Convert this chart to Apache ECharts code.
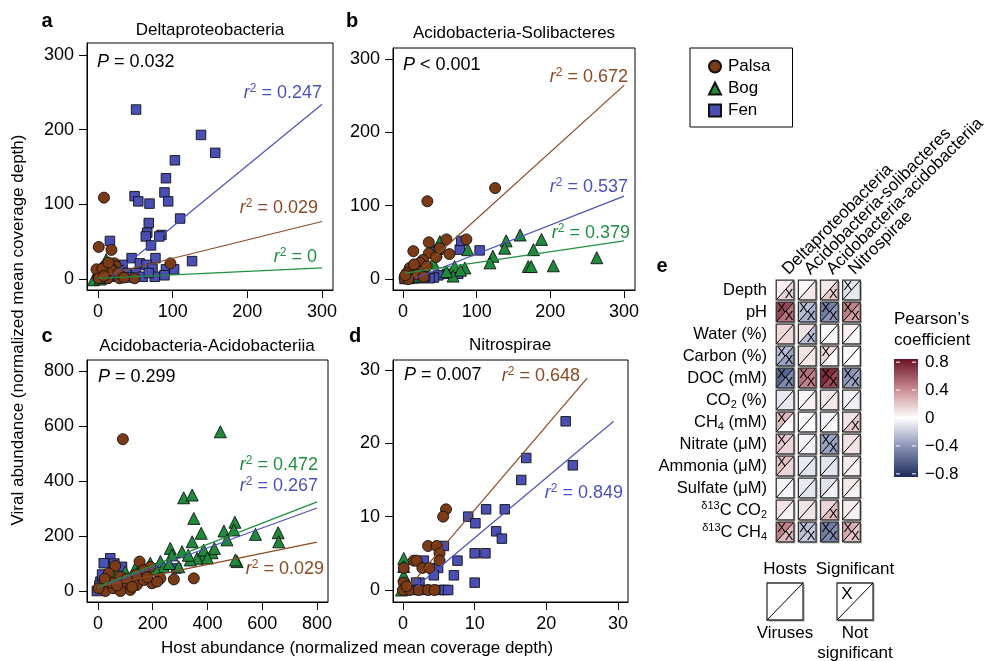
<!DOCTYPE html>
<html><head><meta charset="utf-8">
<script src="https://cdn.jsdelivr.net/npm/echarts@6/dist/echarts.min.js"></script>
<style>html,body{margin:0;padding:0;background:#fff}#c{width:988px;height:661px}</style>
</head><body><div id="c"></div>
<script>
const FONT = '"Liberation Sans", Arial, Helvetica, sans-serif';
const C_PALSA = '#7b3b16', C_BOG = '#1f8a3c', C_FEN = '#4a4fb5';
const L_PALSA = '#8c4a22', L_BOG = '#1f9040', L_FEN = '#4d52ba';

// ---------------- scatter data (host, virus) ----------------
const fenA = [[51,227],[138,193],[157,169],[103,159],[91,135],[89,116],[94,104],[49,111],[54,104],[69,101],[68,75],[66,62],[64,57],[85,59],[82,57],[71,45],[110,81],[16,51],[126,24],[45,28],[77,28],[56,21],[65,19],[73,14],[91,13],[102,13],[89,5],[33,19],[29,12],[38,8],[51,8],[60,3],[76,3],[20,3],[11,1],[42,2],[25,5],[68,8]];
const bogA = [[11,26],[-6,-1],[3,0],[8,2]];
const palsaA = [[8,109],[1,43],[18,39],[97,21],[0,3],[4,10],[9,17],[16,19],[22,21],[24,17],[19,13],[11,8],[2,5],[13,1],[49,1],[29,1],[18,12],[-2,13],[1,1],[6,14],[14,22],[27,8],[35,2],[8,4]];

const fenB = [[77,40],[79,52],[104,39],[75,7],[60,7],[48,5],[42,2],[48,40],[43,37],[36,1],[23,1],[9,0],[2,0],[30,3],[15,1]];
const bogB = [[263,29],[204,18],[170,17],[174,17],[188,54],[177,40],[159,60],[140,52],[138,42],[122,31],[118,22],[88,40],[84,15],[70,17],[50,51],[68,4],[59,10],[41,22],[27,6],[16,4],[78,12],[45,38]];
const palsaB = [[125,124],[33,106],[35,50],[59,54],[86,54],[14,38],[35,35],[63,34],[45,30],[27,26],[23,22],[9,15],[18,13],[25,10],[5,8],[11,4],[2,1],[7,0],[32,17],[50,42],[15,20],[3,5],[20,6],[28,3]];

const fenC = [[45,119],[21,101],[88,88],[286,82],[9,34],[-4,0],[33,52],[60,100],[15,60],[5,20]];
const bogC = [[447,579],[313,339],[344,349],[350,264],[377,210],[344,179],[500,250],[460,218],[496,222],[471,186],[575,206],[658,212],[660,179],[508,107],[502,113],[417,139],[386,125],[362,119],[337,113],[307,143],[264,155],[270,131],[228,107],[240,88],[191,101],[136,82],[295,88],[386,149],[425,155],[69,64],[160,95],[210,80],[330,130],[400,120],[260,100],[100,70]];
const palsaC = [[91,552],[350,46],[277,42],[152,107],[63,91],[39,64],[82,52],[118,34],[197,28],[228,46],[191,88],[167,76],[15,16],[27,0],[57,10],[100,16],[118,4],[82,0],[142,22],[167,40],[216,34],[33,34],[2,10],[140,60],[105,45],[50,30],[70,20],[180,50],[25,45],[125,15]];

const fenD = [[22.7,23],[23.7,17],[17.2,18],[16.5,15],[11.6,11],[14.2,11],[9.1,10],[10.1,9.1],[13,8],[13.8,7],[10,5],[11.5,5],[10,1],[7.1,2],[7.6,4],[5.7,6],[4.9,3],[4.3,2],[2.9,4],[2.3,1],[1.8,1],[5.1,0],[5.8,0],[6.3,0],[3.7,0],[2.3,0],[1.2,0],[0.5,0]];
const bogD = [[0.1,4.3],[0.1,3.2],[0.1,2],[-0.2,0],[0.1,0.9]];
const palsaD = [[6,11],[5.6,10],[3.5,6],[4.7,6],[5.1,5],[5.1,4],[1.5,4],[1.9,4],[2.7,3],[3.7,3],[0.1,3],[0.1,1],[0,0],[0.9,0],[2.2,0],[3.5,0],[4.4,0],[0.5,0.5]];

// regression line end points
const fitA = {Fen:[[18,3],[300,234]], Palsa:[[0,3],[300,77]], Bog:[[0,1],[300,15]]};
const fitB = {Fen:[[16,1],[300,113]], Palsa:[[12,2],[300,264]], Bog:[[3,8],[300,52]]};
const fitC = {Fen:[[0,12],[800,302]], Palsa:[[0,15],[800,178]], Bog:[[0,15],[800,324]]};
const fitD = {Fen:[[1.7,0.3],[29.4,23]], Palsa:[[0.7,0.3],[25.7,28.9]]};

const r2A = {Fen:'0.247', Palsa:'0.029', Bog:'0'};
const r2B = {Palsa:'0.672', Fen:'0.537', Bog:'0.379'};
const r2C = {Bog:'0.472', Fen:'0.267', Palsa:'0.029'};
const r2D = {Palsa:'0.648', Fen:'0.849'};
const pTexts = ['= 0.032', '< 0.001', '= 0.299', '= 0.007'];

const ticksA = [0,100,200,300];
const ticksB = [0,100,200,300];
const ticksC = [0,200,400,600,800];
const ticksD = [0,10,20,30];
const panelTitles = ['Deltaproteobacteria','Acidobacteria-Solibacteres','Acidobacteria-Acidobacteriia','Nitrospirae'];

// ---------------- heatmap data ----------------
const heatCols = ['Deltaproteobacteria','Acidobacteria-solibacteres','Acidobacteria-acidobacteriia','Nitrospirae'];
const heatRows = ['Depth','pH','Water (%)','Carbon (%)','DOC (mM)','CO2 (%)','CH4 (mM)','Nitrate (\u03bcM)','Ammonia (\u03bcM)','Sulfate (\u03bcM)','\u03b413C CO2','\u03b413C CH4'];
const hostR = [
 [0.05,0.03,0.08,-0.1],
 [0.65,-0.25,-0.5,0.45],
 [0.14,0.1,0.0,0.05],
 [-0.25,0.1,0.14,0.02],
 [-0.6,0.5,0.75,-0.4],
 [-0.08,0.02,0.08,-0.05],
 [0.25,0.02,-0.04,0.1],
 [0.2,-0.04,-0.35,0.1],
 [0.22,-0.08,-0.1,0.07],
 [-0.05,-0.08,-0.1,0.08],
 [0.1,0.1,0.15,0.07],
 [0.45,-0.25,-0.5,0.3]];
const virusR = [
 [0.15,0.08,0.18,-0.08],
 [0.5,-0.3,-0.4,0.35],
 [0.14,-0.25,0.02,0.02],
 [-0.35,0.08,0.02,0.0],
 [-0.45,0.45,0.65,-0.35],
 [-0.08,0.05,0.08,-0.05],
 [0.02,0.0,0.0,0.2],
 [0.15,-0.04,-0.35,0.1],
 [0.15,-0.1,-0.1,0.05],
 [-0.03,-0.1,-0.05,0.05],
 [0.05,0.1,0.25,0.05],
 [0.25,-0.2,-0.45,0.2]];
const hostX = [[0,0,0,1],[1,1,1,1],[0,0,0,0],[1,0,1,0],[1,1,1,1],[0,0,0,0],[1,0,0,0],[1,0,1,0],[1,0,0,0],[0,0,0,0],[0,0,0,0],[1,1,1,1]];
const virusX = [[1,0,1,0],[1,1,1,1],[0,1,0,0],[1,0,0,0],[1,1,1,1],[0,0,0,0],[0,0,0,1],[0,0,1,0],[0,0,0,0],[0,0,0,0],[0,0,1,0],[1,1,1,1]];
const cbTicks = [-0.8,-0.4,0,0.4,0.8];
const cbRange = [-0.845, 0.845];
const rampStops = [[-0.845,'#1b2b5b'],[-0.4,'#8d95b9'],[0,'#ffffff'],[0.4,'#cb8f96'],[0.845,'#6b1022']];

// ---------------- helpers ----------------
function hex2rgb(h){return [parseInt(h.slice(1,3),16),parseInt(h.slice(3,5),16),parseInt(h.slice(5,7),16)];}
function rampColor(v){
  v = Math.max(rampStops[0][0], Math.min(rampStops[rampStops.length-1][0], v));
  for (let i=0;i<rampStops.length-1;i++){
    const a=rampStops[i], b=rampStops[i+1];
    if (v>=a[0] && v<=b[0]){
      const t=(v-a[0])/(b[0]-a[0]); const ca=hex2rgb(a[1]), cb=hex2rgb(b[1]);
      const c=ca.map((x,k)=>Math.round(x+(cb[k]-x)*t));
      return 'rgb('+c.join(',')+')';
    }
  }
  return '#fff';
}

// layout of each scatter panel: plot box in px, axis extents
const panels = [
 {box:[87,43,333,290], xr:[-14.7,314.7], yr:[-14.7,316.1], ticks:ticksA, fen:fenA, bog:bogA, palsa:palsaA, fit:fitA, r2:r2A,
  r2pos:{Fen:[322,93],Palsa:[318,208],Bog:[317,257]}, ppos:[97,62], tpos:[210,30], letter:'a', lpos:[47,21]},
 {box:[393,48,635,290], xr:[-13.6,314.9], yr:[-15,315], ticks:ticksB, fen:fenB, bog:bogB, palsa:palsaB, fit:fitB, r2:r2B,
  r2pos:{Palsa:[628,77],Fen:[628,187],Bog:[630,233]}, ppos:[403,65], tpos:[514,33], letter:'b', lpos:[352,21]},
 {box:[87,360,328,602], xr:[-40,840], yr:[-40,840], ticks:ticksC, fen:fenC, bog:bogC, palsa:palsaC, fit:fitC, r2:r2C,
  r2pos:{Bog:[318,465],Fen:[318,486],Palsa:[324,569]}, ppos:[98,377], tpos:[207,346], letter:'c', lpos:[47,336]},
 {box:[393,360,628,602], xr:[-1.4,31.4], yr:[-1.64,31.36], ticks:ticksD, fen:fenD, bog:bogD, palsa:palsaD, fit:fitD, r2:r2D,
  r2pos:{Palsa:[580,376],Fen:[623,493]}, ppos:[404,375], tpos:[510,345], letter:'d', lpos:[355,336]}
];

const grids=[], xAxes=[], yAxes=[], series=[], graphics=[];
const fillC = {Palsa:C_PALSA, Bog:C_BOG, Fen:C_FEN};
const lineC = {Palsa:L_PALSA, Bog:L_BOG, Fen:L_FEN};
const symb = {Palsa:['circle',11], Bog:['triangle',12], Fen:['rect',9.5]};

panels.forEach((p,i)=>{
  const [l,t,r,b] = p.box;
  grids.push({left:l, top:t, width:r-l, height:b-t, show:true, borderColor:'#000', borderWidth:1, backgroundColor:'transparent'});
  const axisCommon = {
    type:'value', gridIndex:i, splitLine:{show:false},
    axisLine:{show:true, onZero:false, lineStyle:{color:'#000', width:1}},
    axisTick:{show:true, inside:false, customValues:p.ticks, length:8, lineStyle:{color:'#000', width:1}},
    axisLabel:{customValues:p.ticks, color:'#000', fontSize:18, fontFamily:FONT}
  };
  xAxes.push(Object.assign({}, axisCommon, {position:'bottom', min:p.xr[0], max:p.xr[1], axisLabel:Object.assign({}, axisCommon.axisLabel, {margin:13})}));
  yAxes.push(Object.assign({}, axisCommon, {position:'left', min:p.yr[0], max:p.yr[1], axisLabel:Object.assign({}, axisCommon.axisLabel, {margin:13})}));
  ['Fen','Bog','Palsa'].forEach(k=>{
    series.push({type:'scatter', name:k, xAxisIndex:i, yAxisIndex:i, data:p[k.toLowerCase()],
      symbol:symb[k][0], symbolSize:symb[k][1], z:3,
      itemStyle:{color:fillC[k], borderColor:'#111', borderWidth:0.9, opacity:1}});
  });
  Object.keys(p.fit).forEach(k=>{
    series.push({type:'line', name:'fit'+k+i, xAxisIndex:i, yAxisIndex:i, data:p.fit[k], symbol:'none', z:4,
      lineStyle:{color:lineC[k], width:1.2}});
  });
  Object.keys(p.r2).forEach(k=>{
    const pos = p.r2pos[k]; const c = lineC[k];
    graphics.push({type:'text', x:pos[0], y:pos[1], z:10, style:{
      text:'{i|r}{s|2}{t| = '+p.r2[k]+'}', align:'right', verticalAlign:'middle',
      rich:{i:{fontStyle:'italic', fontSize:18, fontFamily:FONT, fill:c},
            s:{fontSize:12, fontFamily:FONT, fill:c, padding:[0,0,9,0]},
            t:{fontSize:18, fontFamily:FONT, fill:c}}}});
  });
  graphics.push({type:'text', x:p.ppos[0], y:p.ppos[1], z:10, style:{
    text:'{i|P}{t| '+pTexts[i]+'}', align:'left', verticalAlign:'middle',
    rich:{i:{fontStyle:'italic', fontSize:18, fontFamily:FONT, fill:'#000'}, t:{fontSize:18, fontFamily:FONT, fill:'#000'}}}});
  graphics.push({type:'text', x:p.tpos[0], y:p.tpos[1], style:{text:panelTitles[i], fontSize:17, fontFamily:FONT, fill:'#000', align:'center', verticalAlign:'middle'}});
  graphics.push({type:'text', x:p.lpos[0], y:p.lpos[1], style:{text:p.letter, fontSize:20, fontWeight:'bold', fontFamily:FONT, fill:'#000', align:'center', verticalAlign:'middle'}});
});

graphics.push({type:'text', x:18, y:330, rotation:Math.PI/2, style:{text:'Viral abundance (normalized mean coverage depth)', fontSize:17, fontFamily:FONT, fill:'#000', align:'center', verticalAlign:'middle'}});
graphics.push({type:'text', x:357, y:648, style:{text:'Host abundance (normalized mean coverage depth)', fontSize:17, fontFamily:FONT, fill:'#000', align:'center', verticalAlign:'middle'}});
graphics.push({type:'text', x:662, y:266, style:{text:'e', fontSize:20, fontWeight:'bold', fontFamily:FONT, fill:'#000', align:'center', verticalAlign:'middle'}});

// ---------------- heatmap ----------------
const HG = grids.length;
grids.push({left:774, top:279, width:100, height:264});
function fmtChem(s){
  const m = s.match(/^(CO|CH)(\d)(.*)$/);
  if (m) return '{n|'+m[1]+'}{sub|'+m[2]+'}' + (m[3] ? '{n|'+m[3]+'}' : '');
  return '{n|'+s+'}';
}
function fmtRow(s){
  if (s.indexOf('\u03b413C ')===0) return '{sup|\u03b413}{n|C }' + fmtChem(s.slice(5));
  return fmtChem(s);
}
xAxes.push({type:'category', gridIndex:HG, data:heatCols, position:'top', axisLine:{show:false}, axisTick:{show:false}, splitLine:{show:false},
  axisLabel:{rotate:-45, interval:0, margin:7, fontSize:17, fontFamily:FONT, color:'#000'}});
yAxes.push({type:'category', gridIndex:HG, data:heatRows, inverse:true, axisLine:{show:false}, axisTick:{show:false}, splitLine:{show:false},
  axisLabel:{interval:0, margin:7, formatter:v=>fmtRow(v), rich:{
    n:{fontSize:16.5, fontFamily:FONT, color:'#000'},
    sub:{fontSize:11, fontFamily:FONT, color:'#000', padding:[9,0,0,0]},
    sup:{fontSize:11, fontFamily:FONT, color:'#000', padding:[0,0,9,0]}}}});
const heatData = [];
heatRows.forEach((rn,ri)=>heatCols.forEach((cn,ci)=>heatData.push([ci,ri,hostR[ri][ci],virusR[ri][ci],hostX[ri][ci],virusX[ri][ci]])));
series.push({type:'custom', xAxisIndex:HG, yAxisIndex:HG, data:heatData, encode:{x:0,y:1}, z:3,
  renderItem:(params, api)=>{
    const c = api.coord([api.value(0), api.value(1)]);
    const bw = api.size([1,1]);
    const w = bw[0]*0.8, h = bw[1]*0.9;
    const x0 = c[0]-w/2, y0 = c[1]-h/2;
    const ch = [
      {type:'rect', shape:{x:x0+1.5,y:y0+1.5,width:w,height:h}, style:{fill:'#a0a0a0'}},
      {type:'polygon', shape:{points:[[x0,y0],[x0+w,y0],[x0,y0+h]]}, style:{fill:rampColor(api.value(2))}},
      {type:'polygon', shape:{points:[[x0+w,y0],[x0+w,y0+h],[x0,y0+h]]}, style:{fill:rampColor(api.value(3))}},
      {type:'line', shape:{x1:x0,y1:y0+h,x2:x0+w,y2:y0}, style:{stroke:'#000', lineWidth:1}},
      {type:'rect', shape:{x:x0,y:y0,width:w,height:h}, style:{fill:null, stroke:'#333', lineWidth:1.3}}
    ];
    if (api.value(4)) ch.push({type:'text', x:x0+w*0.3, y:y0+h*0.3, style:{text:'X', fontSize:13, fontFamily:FONT, fill:'#000', align:'center', verticalAlign:'middle'}});
    if (api.value(5)) ch.push({type:'text', x:x0+w*0.72, y:y0+h*0.72, style:{text:'X', fontSize:13, fontFamily:FONT, fill:'#000', align:'center', verticalAlign:'middle'}});
    return {type:'group', children:ch};
  }});

// ---------------- colour bar ----------------
const CG = grids.length;
grids.push({left:894, top:359, width:24, height:118});
xAxes.push({type:'value', gridIndex:CG, min:0, max:1, show:false});
yAxes.push({type:'value', gridIndex:CG, min:cbRange[0], max:cbRange[1], position:'right', axisLine:{show:false}, axisTick:{show:false}, splitLine:{show:false},
  axisLabel:{customValues:cbTicks, margin:7, fontSize:17, fontFamily:FONT, color:'#000', formatter:v=>v===0?'0':(v<0?'\u2212':'')+Math.abs(v)}});
series.push({type:'custom', xAxisIndex:CG, yAxisIndex:CG, data:[[0,0]], z:3,
  renderItem:(params, api)=>{
    const p0 = api.coord([0, cbRange[1]]), p1 = api.coord([1, cbRange[0]]);
    const span = cbRange[1]-cbRange[0];
    const stops = rampStops.slice().reverse().map(s=>({offset:(cbRange[1]-s[0])/span, color:s[1]}));
    const ch = [{type:'rect', shape:{x:p0[0],y:p0[1],width:p1[0]-p0[0],height:p1[1]-p0[1]}, style:{fill:new echarts.graphic.LinearGradient(0,0,0,1,stops)}}];
    cbTicks.forEach(t=>{
      const y = api.coord([0,t])[1];
      ch.push({type:'line', shape:{x1:p0[0]+2,y1:y,x2:p0[0]+6,y2:y}, style:{stroke:'#fff', lineWidth:1}});
      ch.push({type:'line', shape:{x1:p1[0]-6,y1:y,x2:p1[0]-2,y2:y}, style:{stroke:'#fff', lineWidth:1}});
    });
    return {type:'group', children:ch};
  }});
graphics.push({type:'text', x:894, y:319, style:{text:'Pearson\u2019s', fontSize:17, fontFamily:FONT, fill:'#000', align:'left', verticalAlign:'middle'}});
graphics.push({type:'text', x:894, y:340, style:{text:'coefficient', fontSize:17, fontFamily:FONT, fill:'#000', align:'left', verticalAlign:'middle'}});

// ---------------- heatmap key ----------------
function keyBox(x,y,withX){
  const g = [
    {type:'rect', shape:{x:x+1.5,y:y+1.5,width:36,height:37}, style:{fill:'#a0a0a0'}},
    {type:'rect', shape:{x:x,y:y,width:36,height:37}, style:{fill:'#fff', stroke:'#333', lineWidth:1.3}},
    {type:'line', shape:{x1:x,y1:y+37,x2:x+36,y2:y}, style:{stroke:'#000', lineWidth:1}}
  ];
  if (withX) g.push({type:'text', x:x+10, y:y+11, style:{text:'X', fontSize:17, fontFamily:FONT, fill:'#000', align:'center', verticalAlign:'middle'}});
  return g;
}
keyBox(767,583,false).concat(keyBox(837,583,true)).forEach(e=>graphics.push(e));
[['Hosts',785,569],['Significant',855,569],['Viruses',785,633],['Not',855,633],['significant',855,653]].forEach(a=>
  graphics.push({type:'text', x:a[1], y:a[2], style:{text:a[0], fontSize:17, fontFamily:FONT, fill:'#000', align:'center', verticalAlign:'middle'}}));

const option = {
  animation:false,
  backgroundColor:'#fff',
  textStyle:{fontFamily:FONT},
  legend:{data:['Palsa','Bog','Fen'], orient:'vertical', left:690, top:48, padding:[10,22,8,18], itemGap:5,
    itemWidth:12, itemHeight:12, borderColor:'#000', borderWidth:1, selectedMode:false,
    textStyle:{fontSize:17, fontFamily:FONT, color:'#000', padding:[0,0,0,2]}},
  grid:grids, xAxis:xAxes, yAxis:yAxes, series:series,
  graphic:{elements:graphics}
};
const chart = echarts.init(document.getElementById('c'), null, {renderer:'canvas'});
chart.setOption(option);
</script></body></html>
